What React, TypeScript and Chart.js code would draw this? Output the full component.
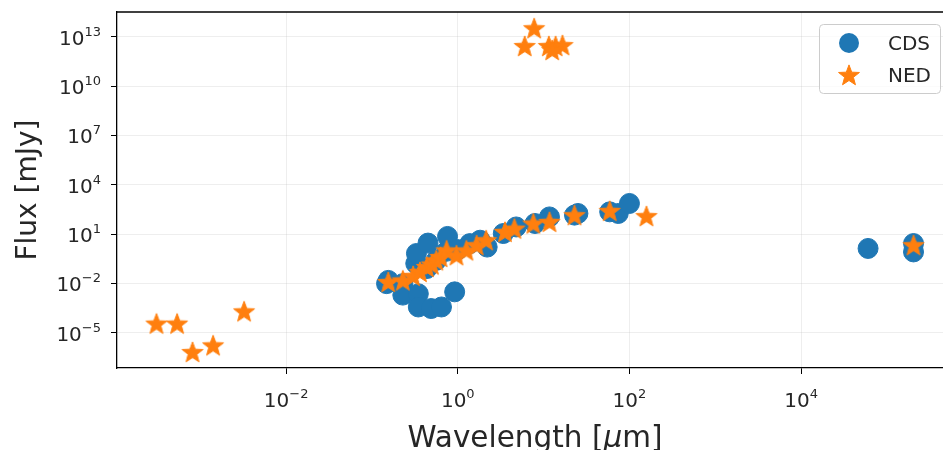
import React, { useEffect, useRef } from "react";
import { Chart, registerables } from "chart.js";

Chart.register(...registerables);

// ---- data (wavelength in µm, flux in mJy) ----
const SERIES_NAMES = ["CDS", "NED"];
const CDS_WAVELENGTH = [
  0.148, 0.155, 0.229, 0.229, 0.347, 0.347, 0.49, 0.646, 0.92, 0.324, 0.33, 0.45, 0.76,
  0.437, 0.562, 0.74, 1.0, 1.38, 1.82, 2.2, 3.39, 4.79, 7.94, 11.7, 22.9, 25.1, 58.9, 74.1,
  100, 60256, 204000, 204000,
];
const CDS_FLUX = [
  0.0095, 0.015, 0.0095, 0.0019, 0.0023, 0.00036, 0.00029, 0.00036, 0.003, 0.16, 0.65, 2.8, 7.1,
  0.079, 0.25, 0.89, 1.12, 2.6, 4.2, 1.6, 10.7, 26.9, 43.7, 110, 141, 178, 224, 178,
  724, 1.32, 2.63, 0.81,
];
const NED_WAVELENGTH = [
  0.000309, 0.000537, 0.000813, 0.00141, 0.00324,
  0.155, 0.229, 0.302, 0.363, 0.437, 0.5, 0.562, 0.63, 0.741, 0.966, 1.26, 1.66, 2.14, 3.55,
  4.57, 7.59, 11.7, 22.9, 58.9, 158, 204000,
  7.76, 6.03, 11.5, 13.8, 16.6, 12.6,
];
const NED_FLUX = [
  3.5e-5, 3.5e-5, 6.5e-7, 1.66e-6, 1.95e-4,
  0.012, 0.015, 0.028, 0.049, 0.098, 0.14, 0.25, 0.4, 1.0, 0.51, 1.0, 2.1, 4.2, 13.5,
  21.4, 43.7, 55, 141, 257, 123, 2.1,
  3.4e13, 2.8e12, 2.8e12, 2.8e12, 3.2e12, 1.6e12,
];
const X_TICKS = [1e-2, 1, 1e2, 1e4];
const Y_TICKS = [1e-5, 1e-2, 1e1, 1e4, 1e7, 1e10, 1e13];
const X_LABEL = "Wavelength [";
const X_LABEL_MU = "μ";
const X_LABEL_END = "m]";
const Y_LABEL = "Flux [mJy]";

const BLUE = "#1f77b4";
const ORANGE = "#ff7f0e";
const FONT = "'DejaVu Sans', sans-serif";

function makeStar(R: number, color: string): HTMLCanvasElement {
  const size = Math.ceil(2 * R + 4);
  const c = document.createElement("canvas");
  c.width = size;
  c.height = size;
  const g = c.getContext("2d")!;
  const cx = size / 2;
  const cy = size / 2 + R * 0.08;
  g.beginPath();
  for (let i = 0; i < 10; i++) {
    const a = -Math.PI / 2 + (i * Math.PI) / 5;
    const r = i % 2 === 0 ? R : R * 0.42;
    const x = cx + r * Math.cos(a);
    const y = cy + r * Math.sin(a);
    if (i === 0) g.moveTo(x, y);
    else g.lineTo(x, y);
  }
  g.closePath();
  g.fillStyle = color;
  g.fill();
  g.lineWidth = 1;
  g.strokeStyle = color;
  g.stroke();
  return c;
}

function supText(ctx: CanvasRenderingContext2D, v: number) {
  const e = Math.round(Math.log10(v));
  const es = e < 0 ? "\u2212" + Math.abs(e) : String(e);
  ctx.font = `20px ${FONT}`;
  const bw = ctx.measureText("10").width;
  ctx.font = `13px ${FONT}`;
  const ew = ctx.measureText(es).width;
  return { es, bw, ew };
}

const CANVAS_W = 955;

export default function App() {
  const ref = useRef<HTMLCanvasElement>(null);

  useEffect(() => {
    document.body.style.margin = "0";
    document.body.style.overflow = "hidden";
    const star = makeStar(11, ORANGE);

    const overlay = {
      id: "overlay",
      afterDraw(chart: any) {
        const ctx = chart.ctx as CanvasRenderingContext2D;
        const area = chart.chartArea;
        const xs = chart.scales.x;
        const ys = chart.scales.y;
        ctx.save();
        // top frame
        ctx.strokeStyle = "#000";
        ctx.lineWidth = 1.3;
        ctx.beginPath();
        ctx.moveTo(area.left, area.top);
        ctx.lineTo(area.right, area.top);
        ctx.stroke();

        ctx.fillStyle = "#262626";
        ctx.textBaseline = "alphabetic";
        ctx.textAlign = "left";
        // y tick labels
        for (const v of Y_TICKS) {
          const py = ys.getPixelForValue(v);
          const { es, bw, ew } = supText(ctx, v);
          const x0 = area.left - 16 - bw - ew;
          ctx.font = `20px ${FONT}`;
          ctx.fillText("10", x0, py + 8);
          ctx.font = `13px ${FONT}`;
          ctx.fillText(es, x0 + bw, py - 1);
        }
        // x tick labels
        for (const v of X_TICKS) {
          const px = xs.getPixelForValue(v);
          const { es, bw, ew } = supText(ctx, v);
          const x0 = px - (bw + ew) / 2;
          ctx.font = `20px ${FONT}`;
          ctx.fillText("10", x0, area.bottom + 39);
          ctx.font = `13px ${FONT}`;
          ctx.fillText(es, x0 + bw, area.bottom + 30);
        }
        // x axis label
        ctx.font = `29.5px ${FONT}`;
        const w1 = ctx.measureText(X_LABEL).width;
        ctx.font = `italic 29.5px ${FONT}`;
        const w2 = ctx.measureText(X_LABEL_MU).width;
        ctx.font = `29.5px ${FONT}`;
        const w3 = ctx.measureText(X_LABEL_END).width;
        const lx = 535 - (w1 + w2 + w3) / 2;
        const ly = 447;
        ctx.fillText(X_LABEL, lx, ly);
        ctx.font = `italic 29.5px ${FONT}`;
        ctx.fillText(X_LABEL_MU, lx + w1, ly);
        ctx.font = `29.5px ${FONT}`;
        ctx.fillText(X_LABEL_END, lx + w1 + w2, ly);
        // y axis label
        ctx.save();
        ctx.translate(36, (area.top + area.bottom) / 2);
        ctx.rotate(-Math.PI / 2);
        ctx.textAlign = "center";
        ctx.font = `28px ${FONT}`;
        ctx.fillText(Y_LABEL, 0, 0);
        ctx.restore();

        // legend
        const bx = 819.5, by = 24.5, bwid = 121, bh = 69;
        ctx.beginPath();
        (ctx as any).roundRect(bx, by, bwid, bh, 4);
        ctx.fillStyle = "rgba(255,255,255,0.8)";
        ctx.fill();
        ctx.strokeStyle = "#cccccc";
        ctx.lineWidth = 1;
        ctx.stroke();
        ctx.beginPath();
        ctx.arc(849, 43, 10, 0, Math.PI * 2);
        ctx.fillStyle = BLUE;
        ctx.fill();
        ctx.drawImage(star, 849 - star.width / 2, 75 - star.height / 2);
        ctx.fillStyle = "#262626";
        ctx.font = `20px ${FONT}`;
        ctx.textAlign = "left";
        ctx.fillText(SERIES_NAMES[0], 888, 50);
        ctx.fillText(SERIES_NAMES[1], 888, 82);
        ctx.restore();
      },
    };

    const gridColor = "rgba(176,176,176,0.22)";
    const chart = new Chart(ref.current!, {
      type: "scatter",
      data: {
        datasets: [
          {
            label: SERIES_NAMES[0],
            data: CDS_WAVELENGTH.map((x, i) => ({ x, y: CDS_FLUX[i] })),
            backgroundColor: BLUE,
            borderColor: BLUE,
            borderWidth: 1,
            pointRadius: 10,
            pointStyle: "circle",
            order: 2,
          },
          {
            label: SERIES_NAMES[1],
            data: NED_WAVELENGTH.map((x, i) => ({ x, y: NED_FLUX[i] })),
            backgroundColor: ORANGE,
            borderColor: ORANGE,
            pointRadius: 11,
            pointStyle: star as any,
            order: 1,
          },
        ],
      },
      options: {
        animation: false,
        responsive: false,
        devicePixelRatio: 1,
        layout: { padding: { top: 12, right: 0, left: 0, bottom: 0 } },
        plugins: { legend: { display: false }, tooltip: { enabled: false } },
        scales: {
          x: {
            type: "logarithmic",
            min: Math.pow(10, -3.97),
            max: Math.pow(10, 5.653),
            afterFit: (s: any) => {
              s.height = 82;
              s.paddingLeft = 0;
              s.paddingRight = 0;
            },
            afterBuildTicks: (s: any) => {
              s.ticks = X_TICKS.map((v) => ({ value: v }));
            },
            ticks: { callback: () => "", autoSkip: false },
            grid: { color: gridColor, tickColor: "#000", tickLength: 6, lineWidth: 1 },
            border: { color: "#000", width: 1.3 },
          },
          y: {
            type: "logarithmic",
            min: Math.pow(10, -7.16),
            max: Math.pow(10, 14.52),
            afterFit: (s: any) => {
              s.width = 117;
              s.paddingTop = 0;
              s.paddingBottom = 0;
            },
            afterBuildTicks: (s: any) => {
              s.ticks = Y_TICKS.map((v) => ({ value: v }));
            },
            ticks: { callback: () => "", autoSkip: false },
            grid: { color: gridColor, tickColor: "#000", tickLength: 6, lineWidth: 1 },
            border: { color: "#000", width: 1.3 },
          },
        },
      },
      plugins: [overlay],
    });
    return () => chart.destroy();
  }, []);

  return (
    <div
      style={{
        position: "fixed",
        left: 0,
        top: 0,
        width: 943,
        height: 450,
        overflow: "hidden",
        background: "#fff",
      }}
    >
      <canvas
        ref={ref}
        width={CANVAS_W}
        height={450}
        style={{ width: CANVAS_W, height: 450, display: "block" }}
      />
    </div>
  );
}
